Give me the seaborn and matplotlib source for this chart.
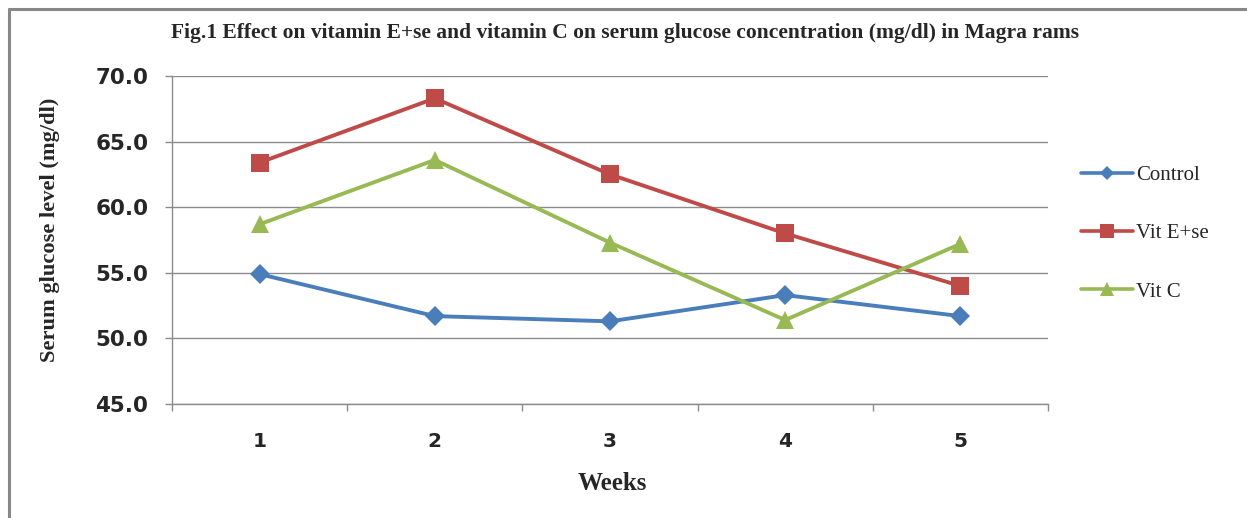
import matplotlib
matplotlib.use("Agg")
import matplotlib.pyplot as plt
import pandas as pd
import seaborn as sns
from matplotlib.lines import Line2D

# data
weeks = [1, 2, 3, 4, 5]
control = [54.9, 51.7, 51.3, 53.3, 51.7]
vit_e_se = [63.4, 68.3, 62.5, 58.0, 54.0]
vit_c = [58.7, 63.6, 57.3, 51.4, 57.2]
series_names = ["Control", "Vit E+se", "Vit C"]

df = pd.DataFrame({
    "week": weeks * 3,
    "value": control + vit_e_se + vit_c,
    "series": [series_names[0]] * 5 + [series_names[1]] * 5 + [series_names[2]] * 5,
})

colors = {"Control": "#4A7EBB", "Vit E+se": "#BE4B48", "Vit C": "#98B954"}
markers = {"Control": "D", "Vit E+se": "s", "Vit C": "^"}
sizes = {"Control": 10, "Vit E+se": 13, "Vit C": 13}

sns.set_style("white")
serif = ["Liberation Serif", "DejaVu Serif"]

fig = plt.figure(figsize=(12.47, 5.18), dpi=100)
ax = fig.add_axes([172 / 1247, 1 - 404 / 518, 876 / 1247, 328 / 518])

sns.lineplot(data=df, x="week", y="value", hue="series", style="series",
             palette=colors, markers=markers, dashes=False, linewidth=2.8,
             markersize=10, markeredgewidth=0, ax=ax, legend=False)
# per-series marker size
for line, name in zip(ax.get_lines(), series_names):
    line.set_markersize(sizes[name])

ax.set_xlim(0.5, 5.5)
ax.set_ylim(45, 70)
ax.set_yticks([45, 50, 55, 60, 65, 70])
ax.set_yticklabels([f"{v:.1f}" for v in [45, 50, 55, 60, 65, 70]],
                   fontsize=15.5, fontweight="bold", family="DejaVu Sans")
ax.set_xticks(weeks)
ax.set_xticklabels([str(w) for w in weeks], fontsize=14.5, fontweight="bold",
                   family="DejaVu Sans")
ax.set_xticks([0.5, 1.5, 2.5, 3.5, 4.5, 5.5], minor=True)
ax.tick_params(axis="x", which="both", bottom=True)
ax.tick_params(axis="x", which="major", length=0, pad=20)
ax.tick_params(axis="x", which="minor", length=5, color="#8c8c8c", width=1)
ax.tick_params(axis="y", left=True, length=5, color="#8c8c8c", width=1, pad=12)

ax.yaxis.grid(True, color="#8c8c8c", linewidth=1)
ax.set_axisbelow(True)
for s in ["top", "right"]:
    ax.spines[s].set_visible(False)
for s in ["left", "bottom"]:
    ax.spines[s].set_color("#8c8c8c")
    ax.spines[s].set_linewidth(1)

ax.set_xlabel("Weeks", fontsize=18, fontweight="bold", family=serif)
ax.xaxis.set_label_coords((612 - 172) / 876, (404 - 483) / 328)
ax.set_ylabel("Serum glucose level (mg/dl)", fontsize=16.2, fontweight="bold",
              family=serif)
ax.yaxis.set_label_coords((50 - 172) / 876, (404 - 230) / 328)
ax.xaxis.label.set_va("center")
ax.yaxis.label.set_va("center")

fig.text(625 / 1247, 1 - 33 / 518,
         "Fig.1 Effect on vitamin E+se and vitamin C on serum glucose concentration (mg/dl) in Magra rams",
         ha="center", va="center", fontsize=15.5, fontweight="bold", family=serif)

handles = [Line2D([0], [0], color=colors[n], marker=markers[n], linewidth=2.6,
                  markersize=sizes[n] * 0.75, markeredgewidth=0) for n in series_names]
leg = fig.legend(handles, series_names, loc="upper left",
                 bbox_to_anchor=(1062 / 1247, 1 - 147 / 518), frameon=False,
                 prop={"family": serif, "size": 15}, handlelength=2.5,
                 labelspacing=1.85, handletextpad=0.15)

# outer border (top and left edges visible in the reference)
fig.add_artist(Line2D([9 / 1247, 1], [1 - 9 / 518, 1 - 9 / 518],
                      transform=fig.transFigure, color="#888888", linewidth=2.2))
fig.add_artist(Line2D([9 / 1247, 9 / 1247], [0, 1 - 9 / 518],
                      transform=fig.transFigure, color="#888888", linewidth=2.2))

fig.savefig("out.png", dpi=100)
